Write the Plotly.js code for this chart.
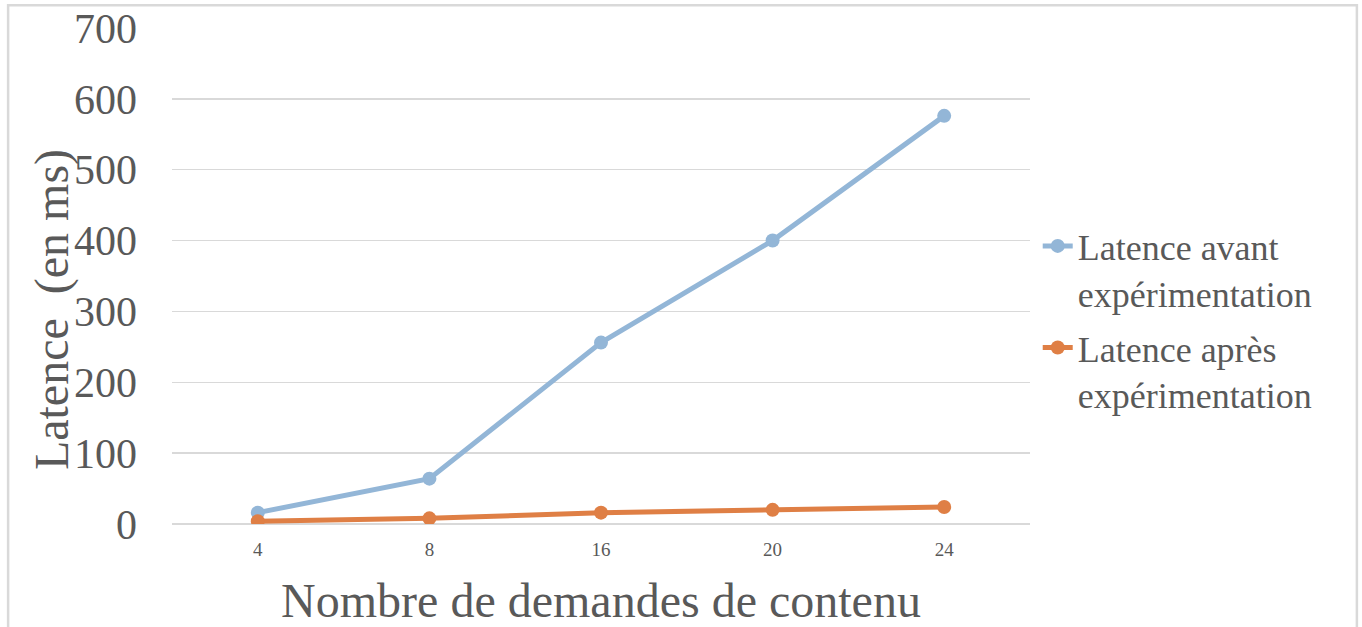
<!DOCTYPE html>
<html><head><meta charset="utf-8">
<script src="https://cdn.plot.ly/plotly-3.0.1.min.js"></script>
<style>html,body{margin:0;padding:0;background:#fff}#c{width:1362px;height:627px}</style>
</head><body><div id="c"></div>
<script>
const categories = ["4", "8", "16", "20", "24"];
const avantValues = [16, 64, 256, 400, 576];
const apresValues = [4, 8, 16, 20, 24];
const seriesNames = ["Latence avant<br>expérimentation", "Latence après<br>expérimentation"];
const yTicks = [0, 100, 200, 300, 400, 500, 600, 700];
const xTitle = "Nombre de demandes de contenu";
const yTitle = "Latence  (en ms)";

const serif = "Liberation Serif";
const grey = "#595959";

const traces = [
  {x: categories, y: avantValues, name: seriesNames[0], legendgroup: "a", type: "scatter", mode: "lines+markers",
   line: {color: "#93B6D7", width: 5}, marker: {color: "#93B6D7", size: 14}},
  {x: categories, y: apresValues, name: seriesNames[1], legendgroup: "b", type: "scatter", mode: "lines+markers",
   line: {color: "#DF7F45", width: 5}, marker: {color: "#DF7F45", size: 14}}
];

const layout = {
  width: 1362, height: 627,
  margin: {l: 172, r: 332, t: 28, b: 103},
  paper_bgcolor: "#fff", plot_bgcolor: "#fff",
  font: {family: serif, color: grey},
  showlegend: true,
  xaxis: {
    type: "category", tickvals: categories, ticktext: categories,
    range: [-0.5, 4.5], showgrid: false, zeroline: false, showline: false,
    ticks: "", ticklabelstandoff: 12, tickfont: {family: serif, size: 19, color: grey},
    title: {text: xTitle, font: {family: serif, size: 48, color: grey}, standoff: 26}
  },
  yaxis: {
    range: [0, 700], tickvals: yTicks, showgrid: true, gridcolor: "#D9D9D9", gridwidth: 1.5,
    zeroline: true, zerolinecolor: "#D9D9D9", zerolinewidth: 2, showline: false, ticks: "",
    ticklabelstandoff: 34,
    tickfont: {family: serif, size: 42, color: grey}
  },
  annotations: [{text: yTitle, xref: "paper", yref: "paper", x: -0.14, y: 0.433,
                 xanchor: "center", yanchor: "middle", textangle: -90, showarrow: false,
                 font: {family: serif, size: 48, color: grey}}],
  legend: {
    x: 1.009, y: 0.621, xanchor: "left", yanchor: "top", valign: "top",
    font: {family: serif, size: 36, color: grey},
    bgcolor: "rgba(0,0,0,0)", tracegroupgap: 5, itemwidth: 30
  },
  shapes: [{type: "rect", xref: "paper", yref: "paper", x0: -0.191, x1: 1.381, y0: -0.4, y1: 1.046,
            line: {color: "#D9D9D9", width: 2.5}, fillcolor: "rgba(0,0,0,0)", layer: "below"}]
};

Plotly.newPlot("c", traces, layout, {displayModeBar: false, staticPlot: true});
</script></body></html>
